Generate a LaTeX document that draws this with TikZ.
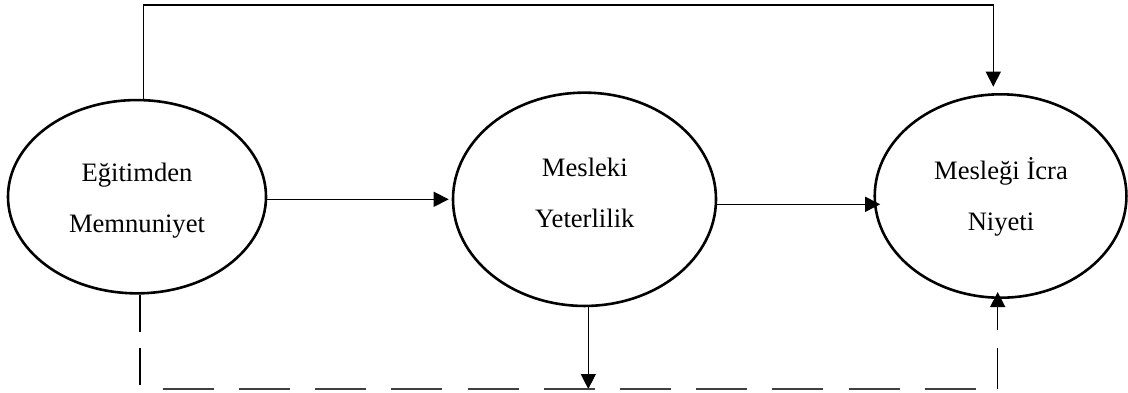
\documentclass[tikz,border=0pt]{standalone}
\usepackage{fontspec}
\setmainfont{Liberation Serif}
\usetikzlibrary{arrows.meta,shapes.geometric,calc}

\begin{document}
\begin{tikzpicture}[x=1pt,y=-1pt,
    construct/.style={ellipse,draw=black,line width=2.6pt,inner sep=0pt},
    caption/.style={align=center,inner sep=0pt,font=\fontsize{26.6}{51}\selectfont},
    conn/.style={draw=black,line width=1.4pt},
    tip/.style={-{Triangle[length=15pt,width=15pt]}},
    hdash/.style={draw=black!75,line width=1.9pt,dash pattern=on 51pt off 25.2pt,dash phase=53.5pt}]
  \useasboundingbox (0,0) rectangle (1128,392);

  % the three constructs
  \node[construct,minimum width=258pt,minimum height=193.3pt] (e1) at (137,196.7) {};
  \node[construct,minimum width=263pt,minimum height=213.3pt] (e2) at (584.5,199.3) {};
  \node[construct,minimum width=251.7pt,minimum height=203.4pt] (e3) at (1000.6,196) {};

  \node[caption] (t1) at (137,200.2)
    {\rule{0pt}{20pt}Eğitimden\\Memnuniyet\rule[-6pt]{0pt}{6pt}};
  \node[caption] (t2) at (584.8,195.2)
    {\rule{0pt}{20pt}Mesleki\\Yeterlilik\rule[-6pt]{0pt}{6pt}};
  \node[caption] (t3) at (1001,196.8)
    {\rule{0pt}{20pt}Mesleği İcra\\Niyeti\rule[-6pt]{0pt}{6pt}};

  % routing points
  \coordinate (tl) at (143.3,5);
  \coordinate (tr) at (993.3,5);
  \coordinate (m23) at ($(e2.east)+(0,5)$);
  \coordinate (dn) at (588.3,389);
  \coordinate (bl) at (140,389);
  \coordinate (br) at (997.7,389);

  % direct paths
  \draw[conn,tip,shorten >=6.3pt] (e1.north -| tl) -- (tl) -- (tr) -- (e3.north -| tr);
  \draw[conn,tip,shorten >=3pt] (e1.east |- e2.west) -- (e2.west);
  \draw[conn,tip,shorten >=-6.7pt] (m23) -- (m23 -| e3.west);
  \draw[conn,tip] (e2.south -| dn) -- (dn);

  % mediated path along the bottom
  \draw[conn,dash pattern=on 37pt off 16.3pt on 37pt off 50pt] (e1.south -| bl) -- (bl);
  \draw[hdash] (bl) -- (br);
  \draw[conn,tip,shorten >=-7pt,dash pattern=on 41pt off 17.6pt on 200pt] (br) -- (e3.south -| br);
\end{tikzpicture}
\end{document}
